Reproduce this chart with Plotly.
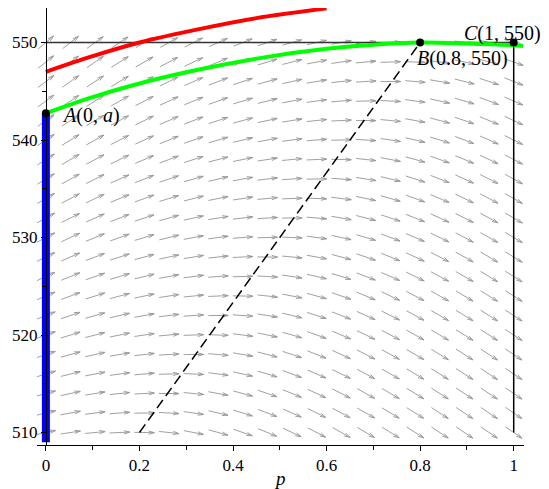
import numpy as np
import plotly.graph_objects as go

# page body has an 8px margin, so the figure is sized/offset to fit the 549x489 window
W, H = 541, 481
ML, MR, MT, MB = 29, 25, 0, 44
X_RANGE = [-0.019, 1.022]
Y_RANGE = [508.72, 553.54]

# direction-field grid
field_p = np.linspace(0, 1, 20)
field_y = np.arange(510, 551, 2)

# zero-slope isocline (dashed line)
iso_p = [0.2, 0.8]
iso_y = [510, 550]

# curves
red_p = [0, 0.1, 0.2, 0.33, 0.45, 0.6]
red_y = [547.0, 548.6, 550.0, 551.4, 552.5, 553.5]
green_p = [0, 0.1, 0.2, 0.33, 0.47, 0.6, 0.7, 0.8, 0.9, 1.0, 1.02]
green_y = [542.75, 544.4, 545.8, 547.25, 548.5, 549.35, 549.78, 550.0, 549.9, 549.72, 549.65]
blue_p = [0, 0]
blue_y = [509.0, 542.75]
hline_p = [0, 1]
hline_y = [550, 550]
vline_p = [1, 1]
vline_y = [510, 550]
pts_p = [0, 0.8, 1]
pts_y = [542.75, 550, 550]

x_ticks = [0, 0.2, 0.4, 0.6, 0.8, 1]
x_ticktext = ["0", "0.2", "0.4", "0.6", "0.8", "1"]
y_ticks = [510, 520, 530, 540, 550]

FONT = "Liberation Serif"

kx = (W - ML - MR) / (X_RANGE[1] - X_RANGE[0])
ky = (H - MT - MB) / (Y_RANGE[1] - Y_RANGE[0])
iso_m = (iso_y[1] - iso_y[0]) / (iso_p[1] - iso_p[0])


def px_slope(p, y):
    z = y - (iso_y[0] + iso_m * (p - iso_p[0]))
    if z > 0:
        return 0.0155 * z
    return -0.72 * np.tanh(-z / 28.0)


ax, ay = [], []
L, HL, HA = 20.0, 6.0, np.radians(16)
for p in field_p:
    for y in field_y:
        th = np.arctan(px_slope(p, y))
        ux, uy = np.cos(th), np.sin(th)
        tx, ty = -L / 2 * ux, -L / 2 * uy
        hx, hy = L / 2 * ux, L / 2 * uy
        ax += [p + tx / kx, p + hx / kx, None]
        ay += [y + ty / ky, y + hy / ky, None]
        for s in (1, -1):
            a = th + np.pi + s * HA
            wx, wy = hx + HL * np.cos(a), hy + HL * np.sin(a)
            ax += [p + hx / kx, p + wx / kx, None]
            ay += [y + hy / ky, y + wy / ky, None]

fig = go.Figure()
fig.add_trace(go.Scatter(x=ax, y=ay, mode="lines", line=dict(color="#959595", width=0.9),
                         hoverinfo="skip", showlegend=False))
fig.add_trace(go.Scatter(x=hline_p, y=hline_y, mode="lines", line=dict(color="#333333", width=1.5),
                         showlegend=False))
fig.add_trace(go.Scatter(x=vline_p, y=vline_y, mode="lines", line=dict(color="black", width=1.5),
                         showlegend=False))
fig.add_trace(go.Scatter(x=iso_p, y=iso_y, mode="lines",
                         line=dict(color="black", width=1.5, dash="10px,5px"), showlegend=False))
fig.add_trace(go.Scatter(x=red_p, y=red_y, mode="lines", line=dict(color="#ff0000", width=4, shape="spline"),
                         showlegend=False))
fig.add_trace(go.Scatter(x=green_p, y=green_y, mode="lines", line=dict(color="#00ff00", width=4, shape="spline"),
                         showlegend=False))
fig.add_trace(go.Scatter(x=blue_p, y=blue_y, mode="lines", line=dict(color="#0000ff", width=8),
                         showlegend=False))
fig.add_trace(go.Scatter(x=pts_p, y=pts_y, mode="markers", marker=dict(color="black", size=8),
                         showlegend=False))

ann_font = dict(family=FONT, size=20, color="black")
fig.add_annotation(x=0.03, y=542.5, text="<i>A</i>(0, <i>a</i>)", showarrow=False,
                   xanchor="left", yanchor="middle", font=ann_font)
fig.add_annotation(x=0.79, y=548.4, text="<i>B</i>(0.8, 550)", showarrow=False,
                   xanchor="left", yanchor="middle", font=ann_font)
fig.add_annotation(x=0.89, y=550.95, text="<i>C</i>(1, 550)", showarrow=False,
                   xanchor="left", yanchor="middle", font=ann_font)
fig.add_annotation(x=0.5, xref="x", y=0, yref="paper", yshift=-33, text="<i>p</i>", showarrow=False,
                   xanchor="center", yanchor="middle", font=dict(family=FONT, size=19, color="black"))

fig.update_layout(
    width=W, height=H, margin=dict(l=ML, r=MR, t=MT, b=MB, autoexpand=False),
    paper_bgcolor="white", plot_bgcolor="white",
    font=dict(family=FONT, size=17, color="black"),
    xaxis=dict(range=X_RANGE, showgrid=False, zeroline=False, showline=True, linecolor="black",
               linewidth=1, tickvals=x_ticks, ticktext=x_ticktext, ticks="outside", ticklen=5,
               tickcolor="black", automargin=False,
               minor=dict(ticks="outside", dtick=0.1, ticklen=4, tickcolor="black")),
    yaxis=dict(range=Y_RANGE, anchor="free", position=(0 - X_RANGE[0]) / (X_RANGE[1] - X_RANGE[0]),
               showgrid=False, zeroline=False, showline=True, linecolor="black", linewidth=1,
               tickvals=y_ticks, ticks="outside", ticklen=5, tickcolor="black", automargin=False,
               minor=dict(ticks="outside", dtick=5, ticklen=4, tickcolor="black")),
)
fig.write_html("out.html")
